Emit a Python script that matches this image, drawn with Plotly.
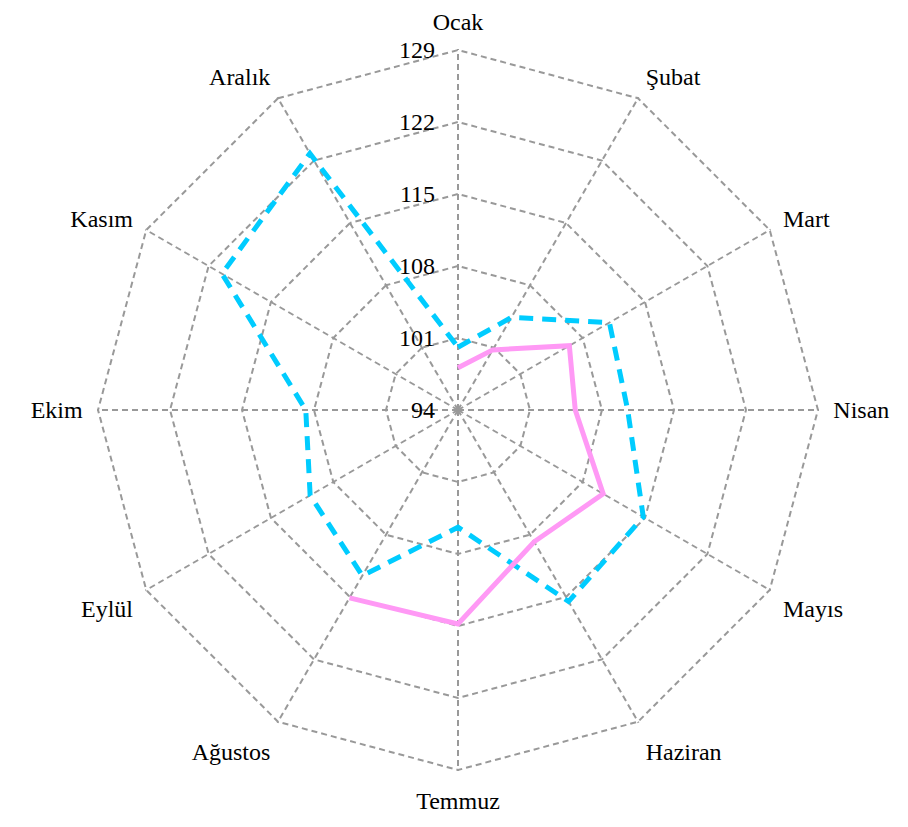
import plotly.graph_objects as go

months = ["Ocak", "Şubat", "Mart", "Nisan", "Mayıs", "Haziran",
          "Temmuz", "Ağustos", "Eylül", "Ekim", "Kasım", "Aralık"]
series_blue = [100.1, 104.4, 111.0, 110.5, 114.8, 115.5,
               105.4, 112.6, 110.6, 108.8, 120.5, 122.8]
series_pink = [98.1, 100.75, 106.5, 105.4, 110.3, 108.8, 114.8, 115.1]
tick_vals = [94, 101, 108, 115, 122, 129]

fig = go.Figure()
fig.add_trace(go.Scatterpolar(
    r=series_blue + series_blue[:1],
    theta=months + months[:1],
    mode="lines",
    line=dict(color="#00CCFF", width=5, dash="14px,9px"),
    showlegend=False,
))
fig.add_trace(go.Scatterpolar(
    r=series_pink,
    theta=months[:len(series_pink)],
    mode="lines",
    line=dict(color="#FF99F5", width=5),
    showlegend=False,
))

fig.update_layout(
    width=908, height=827,
    margin=dict(l=89, r=97, t=41, b=64),
    paper_bgcolor="white",
    plot_bgcolor="white",
    font=dict(family="Liberation Serif, Times New Roman, serif", size=24, color="black"),
    polar=dict(
        bgcolor="white",
        gridshape="linear",
        radialaxis=dict(
            range=[94, 129.1],
            tickvals=tick_vals,
            ticktext=[str(v) for v in tick_vals],
            angle=90,
            tickangle=90,
            side="counterclockwise",
            showline=False,
            ticks="outside",
            ticklen=14,
            tickcolor="rgba(0,0,0,0)",
            gridcolor="#999999",
            gridwidth=2,
            griddash="6px,4px",
            tickfont=dict(size=24),
        ),
        angularaxis=dict(
            categoryarray=months,
            categoryorder="array",
            rotation=90,
            direction="clockwise",
            showline=False,
            ticks="outside",
            ticklen=9,
            tickcolor="rgba(0,0,0,0)",
            gridcolor="#999999",
            gridwidth=2,
            griddash="6px,4px",
            tickfont=dict(size=24),
        ),
    ),
)

fig.write_html("out.html")
